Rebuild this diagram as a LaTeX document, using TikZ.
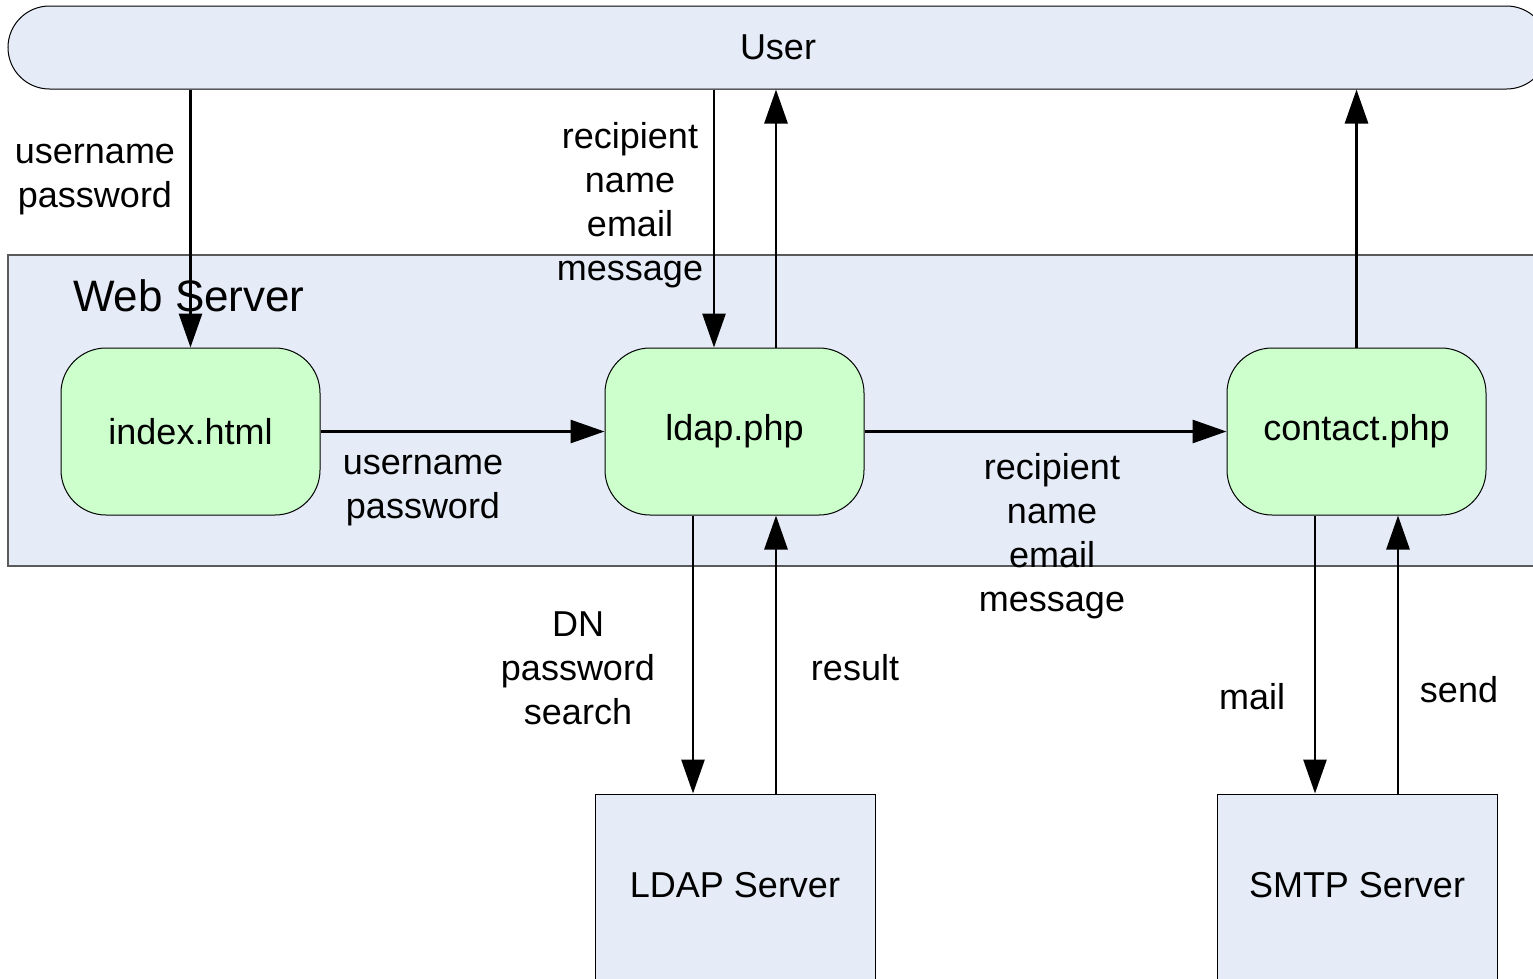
\documentclass[tikz,border=0pt]{standalone}
\usepackage{fontspec}
\setmainfont{Liberation Sans}
\usetikzlibrary{arrows.meta}
\definecolor{paleblue}{RGB}{229,236,247}
\definecolor{palegreen}{RGB}{204,255,204}
\definecolor{frame}{RGB}{90,90,90}
\begin{document}
\begin{tikzpicture}[x=1pt,y=-1pt,
  every node/.style={font=\fontsize{36}{44}\selectfont, align=center, inner sep=0pt},
  conn/.style={line width=2.8pt, -{Triangle[length=34pt,width=23pt]}},
  proc/.style={draw, line width=1pt, fill=palegreen, rounded corners=45pt,
    minimum width=259pt, minimum height=167pt},
  srv/.style={draw, line width=1pt, fill=paleblue, minimum width=280pt, minimum height=190pt,
    text depth=8pt}]
\useasboundingbox (0,0) rectangle (1533,978);
\clip (0,0) rectangle (1533,978);
\fill[white] (0,0) rectangle (1533,978);
% containers
\node[draw, line width=1pt, fill=paleblue, rounded corners=41.5pt,
  minimum width=1540pt, minimum height=83pt] (user) at (778,47.5) {User};
\node[draw=frame, line width=1.2pt, fill=paleblue, minimum width=1560pt,
  minimum height=311pt] (web) at (788,410.5) {};
\node[font=\fontsize{44}{50}\selectfont, anchor=west] (weblbl) at (73,296) {Web Server};
% processes
\node[proc] (index) at (190.5,431.5) {index.html};
\node[proc] (ldap) at (734.5,431.5) {ldap.php};
\node[proc] (contact) at (1356.5,431.5) {contact.php};
% servers
\node[srv] (ldapsrv) at (735,889) {LDAP Server};
\node[srv] (smtp) at (1357,889) {SMTP Server};
% connectors
\draw[conn] (index.north |- user.south) -- (index.north);
\draw[conn] ([xshift=-20.5pt]ldap.north |- user.south) -- ([xshift=-20.5pt]ldap.north);
\draw[conn] ([xshift=41.5pt]ldap.north) -- ([xshift=41.5pt]ldap.north |- user.south);
\draw[conn] (contact.north) -- (contact.north |- user.south);
\draw[conn] (index.east) -- (ldap.west);
\draw[conn] (ldap.east) -- (contact.west);
\draw[conn] ([xshift=-41.5pt]ldap.south) -- ([xshift=-41.5pt]ldap.south |- ldapsrv.north);
\draw[conn] ([xshift=41.5pt]ldap.south |- ldapsrv.north) -- ([xshift=41.5pt]ldap.south);
\draw[conn] ([xshift=-41.5pt]contact.south) -- ([xshift=-41.5pt]contact.south |- smtp.north);
\draw[conn] ([xshift=41.5pt]contact.south |- smtp.north) -- ([xshift=41.5pt]contact.south);
% labels
\node (l1) at (95,180) {username\\password};
\node (l2) at (630,205) {recipient\\name\\email\\message};
\node (l3) at (423,491) {username\\password};
\node (l4) at (1052,536) {recipient\\name\\email\\message};
\node (l5) at (578,668) {DN\\password\\search};
\node (l6) at (855,668) {result};
\node (l7) at (1252,697) {mail};
\node (l8) at (1459,690) {send};
\end{tikzpicture}
\end{document}
